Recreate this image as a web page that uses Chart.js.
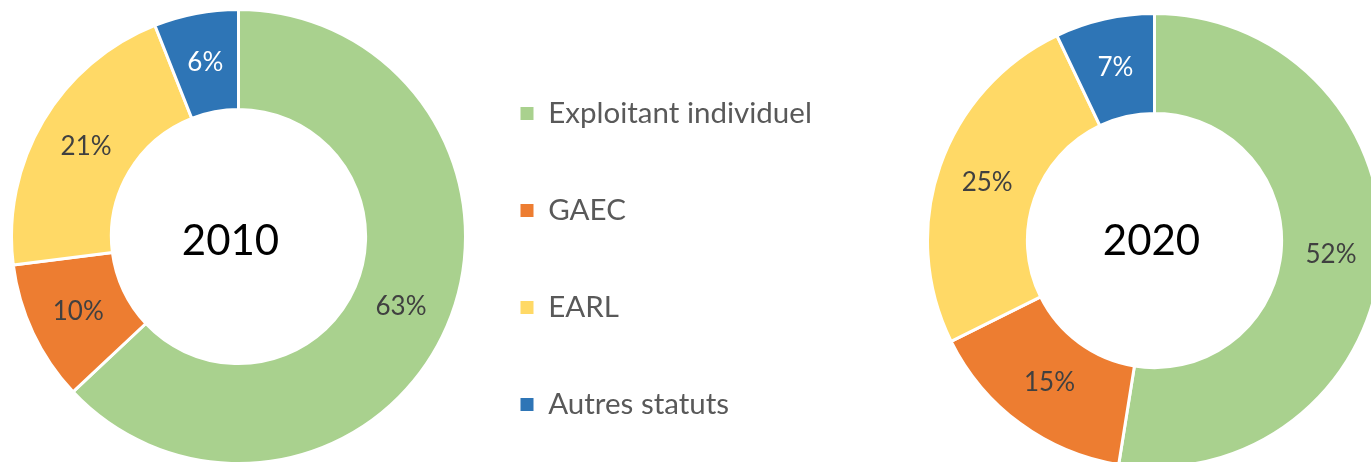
<!DOCTYPE html>
<html>
<head>
<meta charset="utf-8">
<script src="https://cdn.jsdelivr.net/npm/chart.js@4.4.1/dist/chart.umd.min.js"></script>
<style>
  html, body { margin:0; padding:0; background:#fff; width:1371px; height:462px; overflow:hidden; }
  .box { position:absolute; }
</style>
</head>
<body>
<div class="box" id="b1" style="left:10px;top:8px;width:457px;height:457px;"><canvas id="c1"></canvas></div>
<div class="box" id="bl" style="left:453px;top:28px;width:420px;height:462px;"><canvas id="cl"></canvas></div>
<div class="box" id="b2" style="left:926px;top:12px;width:457px;height:457px;"><canvas id="c2"></canvas></div>
<script>
const categories = ['Exploitant individuel', 'GAEC', 'EARL', 'Autres statuts'];
const values2010 = [63, 10, 21, 6];
const values2020 = [52, 15, 25, 7];
const years = ['2010', '2020'];
const colors = ['#A9D18E', '#ED7D31', '#FFD966', '#2E75B6'];
const labelColors = ['#404040', '#404040', '#404040', '#FFFFFF'];
const FONT = 'Lato, "Open Sans", sans-serif';

const arcLabels = {
  id: 'arcLabels',
  afterDatasetsDraw(chart) {
    const ctx = chart.ctx;
    const meta = chart.getDatasetMeta(0);
    const ds = chart.data.datasets[0];
    ctx.save();
    ctx.font = '26px ' + FONT;
    ctx.textAlign = 'center';
    ctx.textBaseline = 'middle';
    meta.data.forEach((arc, i) => {
      const p = arc.getProps(['x','y','startAngle','endAngle','innerRadius','outerRadius'], true);
      const a = (p.startAngle + p.endAngle) / 2;
      const r = (p.innerRadius + p.outerRadius) / 2;
      ctx.fillStyle = labelColors[i];
      ctx.fillText(ds.data[i] + '%', p.x + r * Math.cos(a), p.y + r * Math.sin(a));
    });
    const c = chart.options.plugins.centerText;
    if (c) {
      const p0 = meta.data[0].getProps(['x','y'], true);
      ctx.fillStyle = '#000000';
      ctx.font = '42px ' + FONT;
      ctx.fillText(c.text, p0.x + c.dx, p0.y + c.dy);
    }
    ctx.restore();
  }
};

function donut(id, values, year, dx, dy) {
  return new Chart(document.getElementById(id), {
    type: 'doughnut',
    data: {
      labels: categories,
      datasets: [{ data: values, backgroundColor: colors, borderColor: '#FFFFFF', borderWidth: 3, hoverOffset: 0 }]
    },
    options: {
      responsive: true,
      maintainAspectRatio: false,
      animation: false,
      cutout: '56%',
      layout: { padding: 0 },
      plugins: {
        legend: { display: false },
        tooltip: { enabled: false },
        centerText: { text: year, dx: dx, dy: dy }
      }
    },
    plugins: [arcLabels]
  });
}

function legendChart() {
  return new Chart(document.getElementById('cl'), {
    type: 'bar',
    data: {
      labels: [],
      datasets: categories.map((c, i) => ({ label: c, data: [], backgroundColor: colors[i], borderWidth: 0 }))
    },
    options: {
      responsive: true,
      maintainAspectRatio: false,
      animation: false,
      scales: { x: { display: false }, y: { display: false } },
      plugins: {
        tooltip: { enabled: false },
        legend: {
          position: 'left',
          align: 'center',
          maxWidth: 400,
          onClick: null,
          labels: {
            boxWidth: 13, boxHeight: 13,
            padding: 67.5,
            color: '#595959',
            font: { family: FONT, size: 29.5, lineHeight: 1.2 }
          }
        }
      }
    }
  });
}

function go() {
  donut('c1', values2010, years[0], -8, 5);
  legendChart();
  donut('c2', values2020, years[1], -3, 1);
}
if (document.fonts && document.fonts.load) {
  Promise.all([document.fonts.load('26px Lato'), document.fonts.load('42px Lato')]).then(go, go);
} else { go(); }
</script>
</body>
</html>
